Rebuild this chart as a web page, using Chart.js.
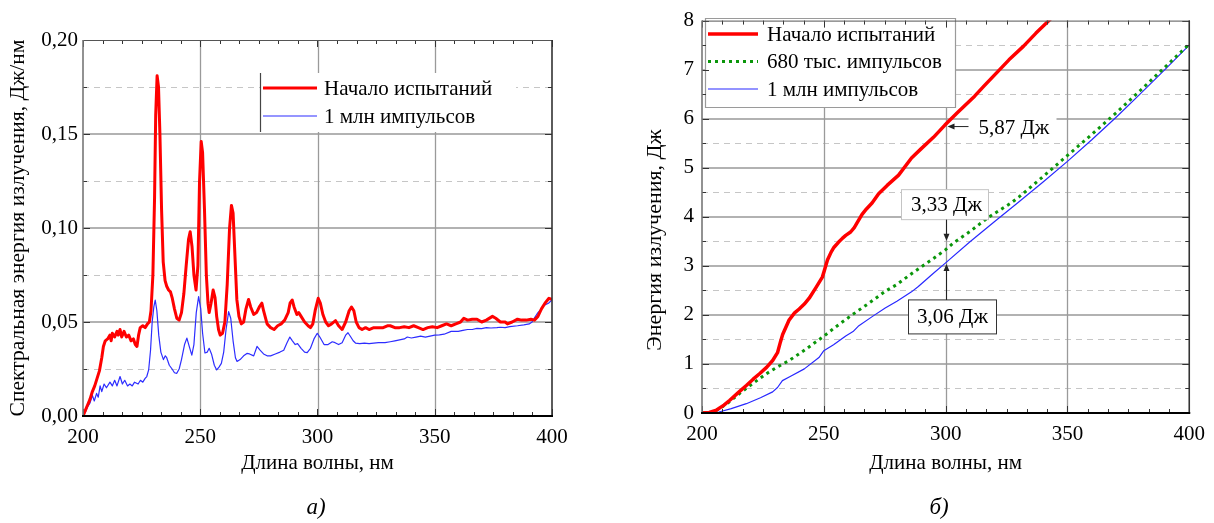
<!DOCTYPE html>
<html><head><meta charset="utf-8">
<script src="https://cdn.jsdelivr.net/npm/chart.js@4.4.1/dist/chart.umd.min.js"></script>
<style>
html,body{margin:0;padding:0;background:#fff;width:1214px;height:523px;overflow:hidden;font-family:"Liberation Serif",serif;}
#c1{position:absolute;left:0;top:0;}
#c2{position:absolute;left:610px;top:0;}
.lab{position:absolute;font-style:italic;font-size:23px;color:#000;transform:translate(-50%,-50%);font-family:"Liberation Serif",serif;}
</style></head><body>
<canvas id="c1" width="600" height="523"></canvas>
<canvas id="c2" width="604" height="523"></canvas>
<div class="lab" style="left:316px;top:507px">а)</div>
<div class="lab" style="left:939px;top:507px">б)</div>
<script>
// ---------- Panel a: spectral energy ----------
const seriesNamesA = ['Начало испытаний', '1 млн импульсов'];
const xTitle = 'Длина волны, нм';
const yTitleA = 'Спектральная энергия излучения, Дж/нм';
const yTitleB = 'Энергия излучения, Дж';

const redWlA = [200,201,202,203,204,205,206,207,208,208.7,209.5,210.5,211.5,212,212.5,213.5,214.5,215,215.8,216.5,217.5,218.5,219.5,220.5,221.5,222.3,223,223.7,224.4,225.5,226.5,227.5,228.3,229,229.8,230.5,231,231.6,232.2,232.8,233.5,234.2,235,235.7,236.5,237.3,238,239,240,241,242,243,244,245,245.7,246.5,247.3,248.2,249,249.7,250.4,251,251.8,252.6,253.3,253.8,254.6,255.5,256.3,257,257.8,258.5,259.5,260.5,261.5,262.5,263.3,264,264.8,265.6,266.5,267.5,268.5,269.5,270.6,271.5,272.8,274,275.2,276.3,277,278.5,280,281.5,283,284.5,286,287.5,288.3,289.2,290,291.2,292,293,294.5,296,297,298,299,300.3,301.2,302.3,303.5,304.7,306,307.7,309,310.5,312,313.5,314.5,315.5,316.5,317.7,319,320.5,322,324,326,328,329.8,331,333,335,337,339,341,343,345,347,349,351,353,355,357,359,361,362.4,364,366,368,370,372,374.6,376,378,380,381,383,385.3,387,389,391,392.5,394,395.5,397,398.7,400];
const redValA = [0,0.003,0.006,0.009,0.013,0.016,0.020,0.024,0.031,0.037,0.040,0.041,0.043,0.040,0.044,0.042,0.045,0.043,0.046,0.042,0.045,0.042,0.043,0.040,0.041,0.038,0.037,0.043,0.047,0.048,0.047,0.049,0.050,0.056,0.075,0.115,0.160,0.181,0.175,0.150,0.110,0.082,0.072,0.069,0.067,0.066,0.063,0.057,0.052,0.051,0.055,0.065,0.080,0.094,0.098,0.090,0.075,0.067,0.080,0.125,0.146,0.140,0.110,0.075,0.060,0.055,0.060,0.067,0.063,0.053,0.046,0.043,0.044,0.050,0.070,0.100,0.112,0.108,0.085,0.062,0.053,0.049,0.050,0.057,0.062,0.058,0.054,0.055,0.058,0.060,0.056,0.049,0.047,0.046,0.048,0.049,0.051,0.055,0.060,0.0617,0.058,0.054,0.055,0.053,0.050,0.048,0.047,0.049,0.056,0.0626,0.060,0.054,0.050,0.048,0.049,0.0507,0.048,0.046,0.050,0.056,0.058,0.056,0.050,0.047,0.046,0.047,0.046,0.047,0.047,0.047,0.048,0.048,0.047,0.047,0.0475,0.047,0.048,0.047,0.046,0.047,0.0475,0.047,0.048,0.049,0.048,0.049,0.050,0.052,0.051,0.0515,0.0515,0.050,0.051,0.053,0.052,0.050,0.050,0.049,0.050,0.0515,0.051,0.051,0.0515,0.051,0.053,0.057,0.060,0.0626,0.062];

const blueWlA = [200,201,202,203,204,204.8,205.8,206.5,207.3,208,209,210,211.5,212.5,213.5,214.5,215.8,216.8,217.8,219,220,221,222,223.5,224.5,225.5,226.5,227.2,228,228.8,229.5,230.2,230.8,231.5,232.3,233.2,234.3,235.1,235.7,236.8,238,239,240,241,242,243.3,244.3,245.3,246.4,247.3,248.3,249.3,250.2,251,252,253,253.8,254.8,256,257,258,259,260,261,262.1,263,264,265,265.7,267,268.5,269.9,271,272.8,274.2,275.5,277,278.5,280,282,284,285.6,287,288.2,289.3,290.5,291.5,293,294.5,295.6,297,298.5,299.9,301,302.8,304.5,306.3,307.5,309,310.5,312,313,314.2,315.2,316.2,318,320,322,324,326,328.8,331,333,335,337,338.3,340,342,344,346,348,350,352,354,357,360,362,364,366,368,370,372,374,376.5,378,380,382,385.3,388,390.3,391.5,392.4,394,395.5,396.7,398.5,400];
const blueValA = [0,0.002,0.005,0.007,0.011,0.008,0.012,0.010,0.016,0.013,0.017,0.015,0.018,0.016,0.019,0.016,0.021,0.017,0.019,0.016,0.017,0.016,0.018,0.017,0.019,0.018,0.020,0.021,0.0245,0.035,0.050,0.058,0.0617,0.056,0.043,0.034,0.030,0.032,0.031,0.027,0.025,0.023,0.0227,0.025,0.030,0.038,0.0414,0.037,0.0324,0.038,0.055,0.0635,0.057,0.044,0.0335,0.034,0.036,0.033,0.027,0.0245,0.026,0.028,0.034,0.046,0.0555,0.052,0.040,0.031,0.029,0.030,0.032,0.0333,0.033,0.032,0.037,0.035,0.033,0.032,0.032,0.033,0.034,0.035,0.039,0.042,0.040,0.038,0.0385,0.036,0.034,0.0337,0.036,0.041,0.044,0.042,0.038,0.038,0.0395,0.039,0.038,0.039,0.043,0.0443,0.042,0.040,0.0388,0.0385,0.0388,0.0385,0.0388,0.039,0.039,0.0395,0.040,0.0405,0.041,0.042,0.0415,0.042,0.0425,0.042,0.0425,0.043,0.0432,0.0435,0.045,0.045,0.0455,0.046,0.046,0.0466,0.0465,0.047,0.0468,0.047,0.0472,0.047,0.0475,0.048,0.0485,0.049,0.050,0.052,0.055,0.057,0.059,0.060,0.0617];

// ---------- Panel b: cumulative energy ----------
const seriesNamesB = ['Начало испытаний', '680 тыс. импульсов', '1 млн импульсов'];
const redWlB = [200,203,206,209,211.4,215,218.2,221,223.6,226.5,229,231,232.2,233.1,235.8,238,239.9,242,244,246.7,249.4,250.5,251.5,253,254.2,256,257.6,259,261,262.5,263.7,265.7,267.5,269.8,272.5,276,280.7,286,290,295,299.7,305,311.9,316,321.4,326,332,337,342.4,346];
const redValB = [0,0.01,0.06,0.16,0.26,0.42,0.56,0.69,0.80,0.93,1.07,1.23,1.45,1.60,1.90,2.04,2.12,2.22,2.34,2.55,2.77,2.95,3.12,3.28,3.38,3.48,3.56,3.62,3.69,3.78,3.88,4.05,4.16,4.28,4.47,4.64,4.85,5.20,5.39,5.62,5.87,6.13,6.46,6.68,6.96,7.20,7.48,7.74,8.00,8.18];
const greenWlB = [200,204,207.3,211,215.5,220,226.4,231,235.8,242.6,250.1,255,261.6,268,275.2,280,286,290,295,300,303,305,310,317.3,326.8,330,340,350,360,370,380,390,400];
const greenValB = [0,0.01,0.09,0.22,0.40,0.57,0.80,0.94,1.07,1.30,1.57,1.76,2.00,2.22,2.48,2.62,2.84,2.98,3.15,3.33,3.46,3.53,3.70,3.98,4.28,4.40,4.82,5.25,5.68,6.12,6.58,7.05,7.52];
const blueWlB = [200,205,207,212,218.2,224,229,231,233,236,242,248,250,254,259,262,264.4,270,275.2,280,286,288.8,295,300,310,320,330,340,350,360,370,380,390,400];
const blueValB = [0,0.01,0.02,0.09,0.19,0.31,0.43,0.52,0.66,0.74,0.90,1.13,1.27,1.39,1.57,1.66,1.78,1.97,2.14,2.28,2.47,2.58,2.85,3.06,3.49,3.90,4.30,4.71,5.13,5.57,6.03,6.51,7.00,7.50];

const noteWavelength = 300;
const noteLabels = ['5,87 Дж', '3,33 Дж', '3,06 Дж'];
const noteValues = [5.87, 3.33, 3.06];

// ---------- helpers ----------
const FONT = '"Liberation Serif", "Times New Roman", serif';
const pts = (xs, ys) => xs.map((x, i) => ({x, y: ys[i]}));

const framePlugin = {
  id: 'frame',
  beforeDatasetsDraw(chart, args, o) {
    const {ctx, chartArea: a, scales: {x, y}} = chart;
    const xs = x.ticks.map(t => t.value), ys = y.ticks.map(t => t.value);
    ctx.save();
    ctx.beginPath();
    for (let i = 0; i < ys.length - 1; i++) {
      const v = (ys[i] + ys[i + 1]) / 2;
      const py = Math.round(y.getPixelForValue(v)) + 0.5;
      ctx.moveTo(a.left, py); ctx.lineTo(a.right, py);
    }
    ctx.setLineDash([6, 5]); ctx.strokeStyle = '#c6c6c6'; ctx.lineWidth = 1; ctx.stroke();
    ctx.setLineDash([]);
    ctx.beginPath();
    ys.slice(1, -1).forEach(v => { const py = Math.round(y.getPixelForValue(v)); ctx.moveTo(a.left, py); ctx.lineTo(a.right, py); });
    ctx.strokeStyle = '#b2b2b2'; ctx.lineWidth = 2; ctx.stroke();
    ctx.beginPath();
    xs.slice(1, -1).forEach(v => { const px = Math.round(x.getPixelForValue(v)) + 0.5; ctx.moveTo(px, a.top); ctx.lineTo(px, a.bottom); });
    ctx.strokeStyle = '#9a9a9a'; ctx.lineWidth = 1.3; ctx.stroke();
    ctx.restore();
  },
  afterDatasetsDraw(chart, args, o) {
    const {ctx, chartArea: a, scales: {x, y}} = chart;
    const xs = x.ticks.map(t => t.value), ys = y.ticks.map(t => t.value);
    ctx.save();
    ctx.strokeStyle = '#333'; ctx.lineWidth = 1;
    ctx.beginPath();
    const xStep = (xs[1] - xs[0]) / o.xDiv;
    for (let v = xs[0], k = 0; v <= xs[xs.length - 1] + 1e-9; v += xStep, k++) {
      const len = (k % o.xDiv === 0) ? 7 : 4;
      const px = Math.round(x.getPixelForValue(v)) + 0.5;
      ctx.moveTo(px, a.bottom); ctx.lineTo(px, a.bottom - len);
      ctx.moveTo(px, a.top); ctx.lineTo(px, a.top + len);
    }
    const yStep = (ys[1] - ys[0]) / o.yDiv;
    for (let k = 0; k <= (ys.length - 1) * o.yDiv; k++) {
      const v = ys[0] + k * yStep;
      const len = (k % o.yDiv === 0) ? 7 : 4;
      const py = Math.round(y.getPixelForValue(v)) + 0.5;
      ctx.moveTo(a.left, py); ctx.lineTo(a.left + len, py);
      ctx.moveTo(a.right, py); ctx.lineTo(a.right - len, py);
    }
    ctx.stroke();
    ctx.lineWidth = 1; ctx.strokeStyle = '#555';
    ctx.beginPath(); ctx.moveTo(a.left, a.top + 0.5); ctx.lineTo(a.right, a.top + 0.5); ctx.stroke();
    ctx.lineWidth = 1.6; ctx.strokeStyle = '#777';
    ctx.beginPath(); ctx.moveTo(a.left, a.top); ctx.lineTo(a.left, a.bottom); ctx.stroke();
    ctx.strokeStyle = '#333';
    ctx.beginPath(); ctx.moveTo(a.right, a.top); ctx.lineTo(a.right, a.bottom); ctx.stroke();
    ctx.lineWidth = 2.2; ctx.strokeStyle = '#000';
    ctx.beginPath(); ctx.moveTo(a.left - 1, a.bottom); ctx.lineTo(a.right + 1, a.bottom); ctx.stroke();
    ctx.restore();
  }
};

const legendPlugin = {
  id: 'boxLegend',
  afterDatasetsDraw(chart, args, o) {
    const ctx = chart.ctx;
    ctx.save();
    ctx.fillStyle = '#fff';
    ctx.fillRect(o.x, o.y, o.w, o.h);
    ctx.lineWidth = 1.2;
    ctx.strokeStyle = o.borderColor;
    ctx.beginPath();
    if (o.fullBorder) {
      ctx.rect(o.x + 0.5, o.y + 0.5, o.w, o.h);
    } else {
      ctx.moveTo(o.x + 0.5, o.y); ctx.lineTo(o.x + 0.5, o.y + o.h);
    }
    ctx.stroke();
    chart.data.datasets.forEach((ds, i) => {
      const yy = o.firstY + i * o.gap;
      ctx.beginPath();
      ctx.setLineDash(ds.borderDash || []);
      ctx.strokeStyle = ds.borderColor; ctx.lineWidth = ds.borderWidth;
      ctx.moveTo(o.lineX, yy); ctx.lineTo(o.lineX + o.lineLen, yy); ctx.stroke();
      ctx.setLineDash([]);
      ctx.fillStyle = '#000'; ctx.font = '21px ' + FONT; ctx.textBaseline = 'middle'; ctx.textAlign = 'left';
      ctx.fillText(ds.label, o.lineX + o.lineLen + o.textGap, yy + 1);
    });
    ctx.restore();
  }
};

function arrowHead(ctx, x, y, dir) {
  ctx.beginPath();
  if (dir === 'down') { ctx.moveTo(x, y); ctx.lineTo(x - 3, y - 7); ctx.lineTo(x + 3, y - 7); }
  if (dir === 'up') { ctx.moveTo(x, y); ctx.lineTo(x - 3, y + 7); ctx.lineTo(x + 3, y + 7); }
  if (dir === 'left') { ctx.moveTo(x, y); ctx.lineTo(x + 7, y - 3); ctx.lineTo(x + 7, y + 3); }
  ctx.closePath(); ctx.fill();
}

const notePlugin = {
  id: 'notes',
  afterDatasetsDraw(chart) {
    const {ctx, scales: {x, y}} = chart;
    const px = Math.round(x.getPixelForValue(noteWavelength)) + 0.5;
    const p = noteValues.map(v => y.getPixelForValue(v));
    ctx.save();
    ctx.font = '21px ' + FONT; ctx.textBaseline = 'middle';
    ctx.lineWidth = 1;
    // 5,87
    ctx.fillStyle = '#fff'; ctx.fillRect(px + 22, p[0] - 13, 88, 26);
    ctx.strokeStyle = '#222'; ctx.fillStyle = '#222';
    ctx.beginPath(); ctx.moveTo(px + 22, p[0] + 1.5); ctx.lineTo(px + 7, p[0] + 1.5); ctx.stroke();
    arrowHead(ctx, px + 1, p[0] + 1.5, 'left');
    ctx.fillStyle = '#000'; ctx.textAlign = 'left';
    ctx.fillText(noteLabels[0], px + 32, p[0] + 3);
    // 3,33
    const b1y = p[1] - 45;
    ctx.fillStyle = '#fff'; ctx.fillRect(px - 45, b1y - 15, 87, 30);
    ctx.strokeStyle = '#c4c4c4'; ctx.strokeRect(px - 45, b1y - 15, 87, 30);
    ctx.strokeStyle = '#222'; ctx.fillStyle = '#222';
    ctx.beginPath(); ctx.moveTo(px, b1y + 15); ctx.lineTo(px, p[1] - 15); ctx.stroke();
    arrowHead(ctx, px, p[1] - 9, 'down');
    ctx.fillStyle = '#000'; ctx.textAlign = 'center';
    ctx.fillText(noteLabels[1], px, b1y + 1);
    // 3,06
    const b2y = p[2] + 54;
    ctx.fillStyle = '#fff'; ctx.fillRect(px - 38, b2y - 17, 88, 34);
    ctx.strokeStyle = '#333'; ctx.strokeRect(px - 38, b2y - 17, 88, 34);
    ctx.strokeStyle = '#222'; ctx.fillStyle = '#222';
    ctx.beginPath(); ctx.moveTo(px, b2y - 17); ctx.lineTo(px, p[2] + 6); ctx.stroke();
    arrowHead(ctx, px, p[2] + 1, 'up');
    ctx.fillStyle = '#000'; ctx.textAlign = 'center';
    ctx.fillText(noteLabels[2], px + 6, b2y + 1);
    ctx.restore();
  }
};

const sideTitlePlugin = {
  id: 'sideTitle',
  afterDraw(chart, args, o) {
    const ctx = chart.ctx;
    ctx.save();
    ctx.translate(o.cx, o.cy); ctx.rotate(-Math.PI / 2);
    ctx.font = '22px ' + FONT; ctx.fillStyle = '#000';
    ctx.textAlign = 'center'; ctx.textBaseline = 'middle';
    ctx.fillText(chart.options.scales.y.title.text, 0, 0);
    ctx.restore();
  }
};

const tickFont = {family: FONT, size: 21};
const xScale = (h) => ({
  type: 'linear', min: 200, max: 400,
  grid: {display: false, drawTicks: false}, border: {display: false},
  ticks: {stepSize: 50, font: tickFont, color: '#000', padding: 9, autoSkip: false, maxRotation: 0},
  title: {display: true, text: xTitle, font: tickFont, color: '#000', padding: {top: 0, bottom: 0}},
  afterFit: s => { s.height = h; }
});

// ---------- Chart a ----------
new Chart(document.getElementById('c1'), {
  type: 'line',
  data: {datasets: [
    {label: seriesNamesA[0], data: pts(redWlA, redValA), borderColor: 'rgb(255,0,0)', borderWidth: 3, pointRadius: 0, tension: 0, borderJoinStyle: 'round'},
    {label: seriesNamesA[1], data: pts(blueWlA, blueValA), borderColor: 'rgb(45,45,255)', borderWidth: 1.2, pointRadius: 0, tension: 0, borderJoinStyle: 'round'}
  ]},
  options: {
    responsive: false, animation: false, events: [],
    layout: {padding: {left: 0, top: 40, right: 48, bottom: 47}},
    scales: {
      x: xScale(60),
      y: {type: 'linear', min: 0, max: 0.2,
        grid: {display: false, drawTicks: false}, border: {display: false},
        ticks: {stepSize: 0.05, font: tickFont, color: '#000', padding: 5, callback: v => v.toFixed(2).replace('.', ',')},
        title: {display: true, text: yTitleA, font: {family: FONT, size: 21.6}, color: '#000', padding: {top: 5, bottom: 0}},
        afterFit: s => { s.width = 83; }}
    },
    plugins: {
      legend: {display: false}, tooltip: {enabled: false},
      frame: {xDiv: 6, yDiv: 2},
      boxLegend: {x: 260, y: 73, w: 256, h: 59, borderColor: '#444', fullBorder: false, lineX: 263, lineLen: 54, textGap: 7, firstY: 88, gap: 28}
    }
  },
  plugins: [legendPlugin, framePlugin]
});

// ---------- Chart b ----------
new Chart(document.getElementById('c2'), {
  type: 'line',
  data: {datasets: [
    {label: seriesNamesB[0], data: pts(redWlB, redValB), borderColor: 'rgb(255,0,0)', borderWidth: 3.5, pointRadius: 0, tension: 0, borderJoinStyle: 'round'},
    {label: seriesNamesB[1], data: pts(greenWlB, greenValB), borderColor: 'rgb(10,150,10)', borderWidth: 3, borderDash: [3, 4], pointRadius: 0, tension: 0},
    {label: seriesNamesB[2], data: pts(blueWlB, blueValB), borderColor: 'rgb(40,40,255)', borderWidth: 1.2, pointRadius: 0, tension: 0, borderJoinStyle: 'round'}
  ]},
  options: {
    responsive: false, animation: false, events: [],
    layout: {padding: {left: 0, top: 15, right: 21, bottom: 47}},
    scales: {
      x: xScale(63),
      y: {type: 'linear', min: 0, max: 8,
        grid: {display: false, drawTicks: false}, border: {display: false},
        ticks: {stepSize: 1, font: tickFont, color: '#000', padding: 8},
        title: {display: false, text: yTitleB},
        afterFit: s => { s.width = 92; }}
    },
    plugins: {
      legend: {display: false}, tooltip: {enabled: false},
      frame: {xDiv: 6, yDiv: 2},
      boxLegend: {x: 95, y: 18, w: 250, h: 89, borderColor: '#9a9a9a', fullBorder: true, lineX: 98, lineLen: 50, textGap: 9, firstY: 34, gap: 27.5},
      sideTitle: {cx: 45, cy: 240}
    }
  },
  plugins: [notePlugin, legendPlugin, framePlugin, sideTitlePlugin]
});
</script>
</body></html>
